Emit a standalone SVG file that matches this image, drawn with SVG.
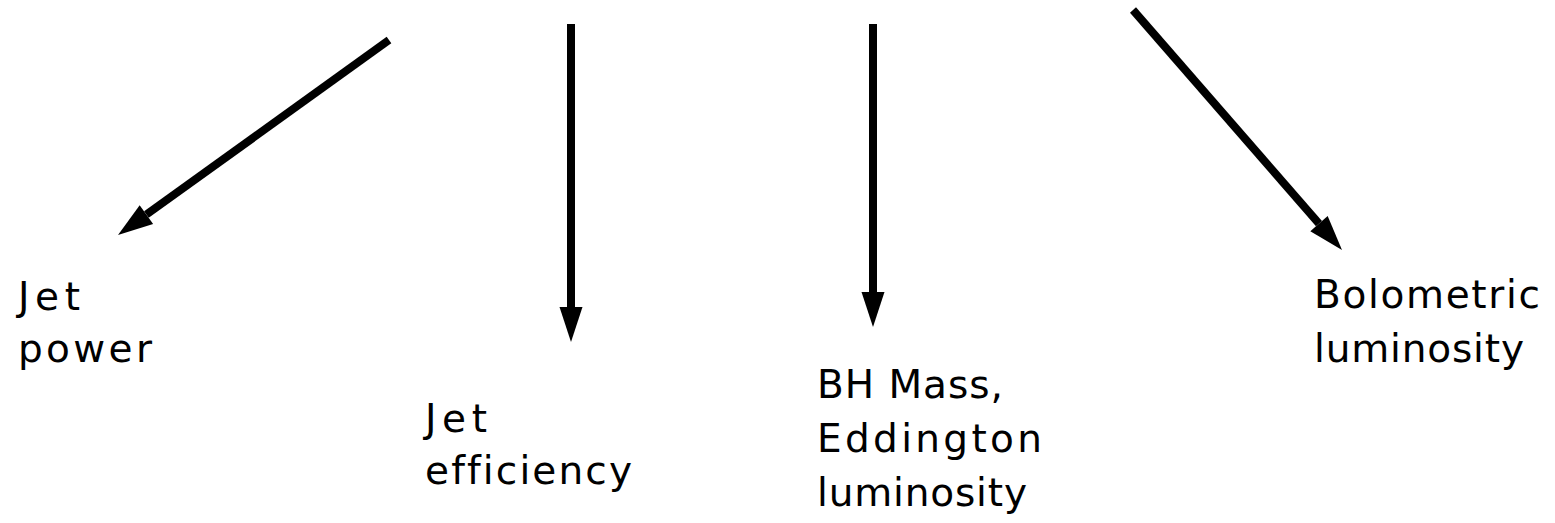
<svg xmlns="http://www.w3.org/2000/svg" width="1555" height="523" viewBox="0 0 1555 523">
<style>
.lbl{font-family:"DejaVu Sans","Noto Sans",sans-serif;font-size:39px;fill:#000;font-variant-ligatures:none}
.con{stroke:#000;stroke-width:8;fill:none;marker-end:url(#ah)}
</style>
<defs>
<marker id="ah" markerUnits="userSpaceOnUse" markerWidth="36" markerHeight="24" refX="0" refY="12" orient="auto" viewBox="0 0 36 24" overflow="visible">
<path d="M0,0.5 L35,12 L0,23.5 z" fill="#000"/>
</marker>
</defs>
<rect width="1555" height="523" fill="#fff"/>
<g id="connectors">
<line class="con" x1="389" y1="40" x2="146.4" y2="214.6"/>
<line class="con" x1="571" y1="24" x2="571" y2="307"/>
<line class="con" x1="873" y1="24" x2="873" y2="292"/>
<line class="con" x1="1133" y1="10" x2="1319" y2="223.6"/>
</g>
<g id="jet-power">
<text class="lbl" x="18" y="310" textLength="62" lengthAdjust="spacing">Jet</text>
<text class="lbl" x="18" y="362" textLength="134" lengthAdjust="spacing">power</text>
</g>
<g id="jet-efficiency">
<text class="lbl" x="425" y="432" textLength="62" lengthAdjust="spacing">Jet</text>
<text class="lbl" x="425" y="484" textLength="207" lengthAdjust="spacing">efficiency</text>
</g>
<g id="bh-mass">
<text class="lbl" x="817" y="398" textLength="186" lengthAdjust="spacing">BH Mass,</text>
<text class="lbl" x="817" y="452" textLength="225" lengthAdjust="spacing">Eddington</text>
<text class="lbl" x="817" y="506" textLength="210" lengthAdjust="spacing">luminosity</text>
</g>
<g id="bolometric">
<text class="lbl" x="1314" y="308" textLength="226" lengthAdjust="spacing">Bolometric</text>
<text class="lbl" x="1314" y="362" textLength="210" lengthAdjust="spacing">luminosity</text>
</g>
</svg>
